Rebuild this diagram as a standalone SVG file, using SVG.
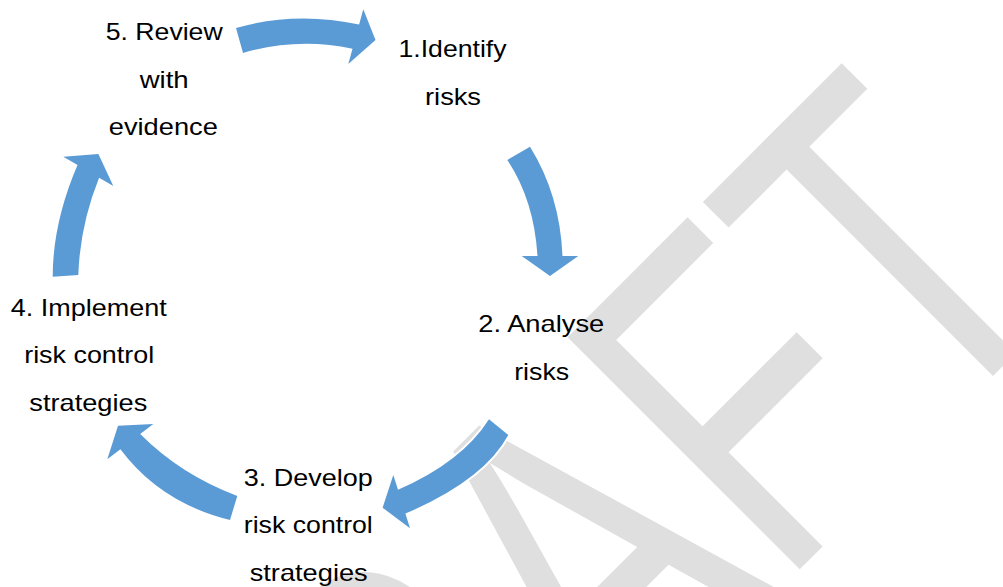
<svg xmlns="http://www.w3.org/2000/svg" width="1003" height="587" viewBox="0 0 1003 587">
<style>
.wm{font-family:"Liberation Sans",Arial,sans-serif;font-size:347px;fill:#dfdfdf;font-kerning:none}
.arr{fill:#5b9bd5;stroke:#ffffff;stroke-width:4;paint-order:stroke;stroke-linejoin:miter}
.lbl{font-family:"Liberation Sans",Arial,sans-serif;font-size:24px;fill:#000;text-anchor:middle}
</style>
<rect width="1003" height="587" fill="#ffffff"/>
<text class="wm" transform="translate(779.6,589.4) rotate(-45) scale(1,1.375)" x="-732.5 -482 -231.5 0 212" y="0">DRAFT</text>
<g id="connectors">
<path class="arr" d="M236,28 Q296,11 359.1,24.6 L363.3,9.3 L375.5,40 L348.3,64 L352.5,48.8 Q298,37 243,53 Z"/>
<path class="arr" d="M530,146.7 Q560,195 562.5,256 L578.3,256 L550,276 L521.7,256 L537.5,256 Q534,200 507.3,160 Z"/>
<path class="arr" d="M489,419.3 Q462,462 398,489.8 L393.3,475 L382.6,507.7 L410,528.3 L405.4,513.6 Q484,480 508.3,435 Z"/>
<path class="arr" d="M237.3,496 Q181,475 140.2,434.1 L153.3,424 L118,425.8 L107.3,459.3 L120.4,449.3 Q160.6,503 230,520 Z"/>
<path class="arr" d="M52.7,276.7 Q52.7,223 77.5,165.1 L63.3,156.7 L98.4,154.1 L113.3,186 L99.1,177.7 Q80,225 78.3,275 Z"/>
</g>
<g id="node1">
<text class="lbl" x="452.5" y="56.7" textLength="108" lengthAdjust="spacingAndGlyphs">1.Identify</text>
<text class="lbl" x="453" y="105" textLength="56" lengthAdjust="spacingAndGlyphs">risks</text>
</g>
<g id="node2">
<text class="lbl" x="541.3" y="332.3" textLength="126" lengthAdjust="spacingAndGlyphs">2. Analyse</text>
<text class="lbl" x="541.7" y="380" textLength="55" lengthAdjust="spacingAndGlyphs">risks</text>
</g>
<g id="node3">
<text class="lbl" x="308.3" y="486" textLength="129" lengthAdjust="spacingAndGlyphs">3. Develop</text>
<text class="lbl" x="308.3" y="533.3" textLength="129" lengthAdjust="spacingAndGlyphs">risk control</text>
<text class="lbl" x="308.7" y="580.7" textLength="118" lengthAdjust="spacingAndGlyphs">strategies</text>
</g>
<g id="node4">
<text class="lbl" x="88.7" y="316" textLength="156" lengthAdjust="spacingAndGlyphs">4. Implement</text>
<text class="lbl" x="89.2" y="363.3" textLength="130" lengthAdjust="spacingAndGlyphs">risk control</text>
<text class="lbl" x="88.3" y="410.7" textLength="118" lengthAdjust="spacingAndGlyphs">strategies</text>
</g>
<g id="node5">
<text class="lbl" x="164.2" y="40" textLength="117" lengthAdjust="spacingAndGlyphs">5. Review</text>
<text class="lbl" x="164.2" y="88" textLength="49" lengthAdjust="spacingAndGlyphs">with</text>
<text class="lbl" x="163.3" y="135" textLength="109" lengthAdjust="spacingAndGlyphs">evidence</text>
</g>
</svg>
